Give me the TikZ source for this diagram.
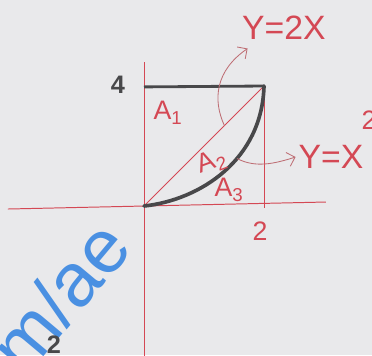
\documentclass[tikz,border=0pt]{standalone}
\usepackage{fontspec}
\setmainfont{Liberation Sans}
\usetikzlibrary{arrows.meta,calc}
\definecolor{board}{RGB}{233,233,235}
\definecolor{pen}{RGB}{212,72,84}
\definecolor{marker}{RGB}{72,72,74}
\definecolor{stamp}{RGB}{74,144,226}
\definecolor{pencil}{RGB}{190,110,116}
\tikzset{
  >={Straight Barb[length=1.8mm]},
  axis/.style={draw=pen,line width=0.7pt},
  graph/.style={draw=marker,line width=2.6pt,line cap=round},
  tag/.style={text=pen,font=\fontsize{19}{19}\selectfont,inner sep=0pt},
  eqn/.style={tag,font=\fontsize{24}{24}\selectfont},
  ink/.style={text=marker,font=\bfseries\fontsize{18}{18}\selectfont,inner sep=0pt},
  pointer/.style={->,draw=pencil,line width=0.6pt},
}

\begin{document}
\begin{tikzpicture}[x=1.5cm,y=0.75cm]
    \path[use as bounding box,fill=board] (-2.4,-4.967) rectangle (3.8,6.867);
    \clip (-2.4,-4.967) rectangle (3.8,6.867);
    % axes and box
    \coordinate (O) at (0,0);
    \coordinate (T) at (2,4);
    \draw[axis] (-2.267,-0.1) -- (3.033,0.133);
    \draw[axis] (0,-5) -- (0,4.8);
    \draw[axis] (T) -- (2,-0.05);
    \draw[axis] (O) -- (T);
    \draw[draw=marker,line width=2pt] (0,3.97) -- (T);
    \draw[graph] (O) .. controls (0.933,0.2) and (1.967,1.533) .. (T) coordinate[pos=0.6] (p);
    \coordinate (d) at ($(O)!0.67!(T)$);
    % labels
    \node[ink] (four) at (-0.433,4.033) {4};
    \node[tag] (a1) at (0.4,3.1) {A\textsubscript{1}};
    \node[tag,rotate=20] (a2) at (1.133,1.467) {A\textsubscript{2}};
    \node[tag] (a3) at (1.417,0.533) {A\textsubscript{3}};
    \node[tag] (two) at (1.933,-0.833) {2};
    \node[eqn] (lin) at (2.333,5.933) {Y=2X};
    \node[eqn] (par) at (3.117,1.633) {Y=X};
    \node[tag] (sq) at (3.75,2.867) {2};
    \node[text=stamp,font=\fontsize{54}{54}\selectfont,rotate=50,inner sep=0pt] (wm) at (-1.64,-3.55) {om/ae};
    \node[ink] (low) at (-1.5,-4.633) {2};
    % pointers
    \draw[pointer] (d) .. controls +(-0.2,0.87) and +(-0.533,-0.733) .. ([xshift=4pt,yshift=-6pt]lin.south west);
    \draw[pointer] (p) .. controls +(0.3,-0.317) and +(-0.367,-0.233) .. ([xshift=-2pt]par.west);
\end{tikzpicture}
\end{document}
